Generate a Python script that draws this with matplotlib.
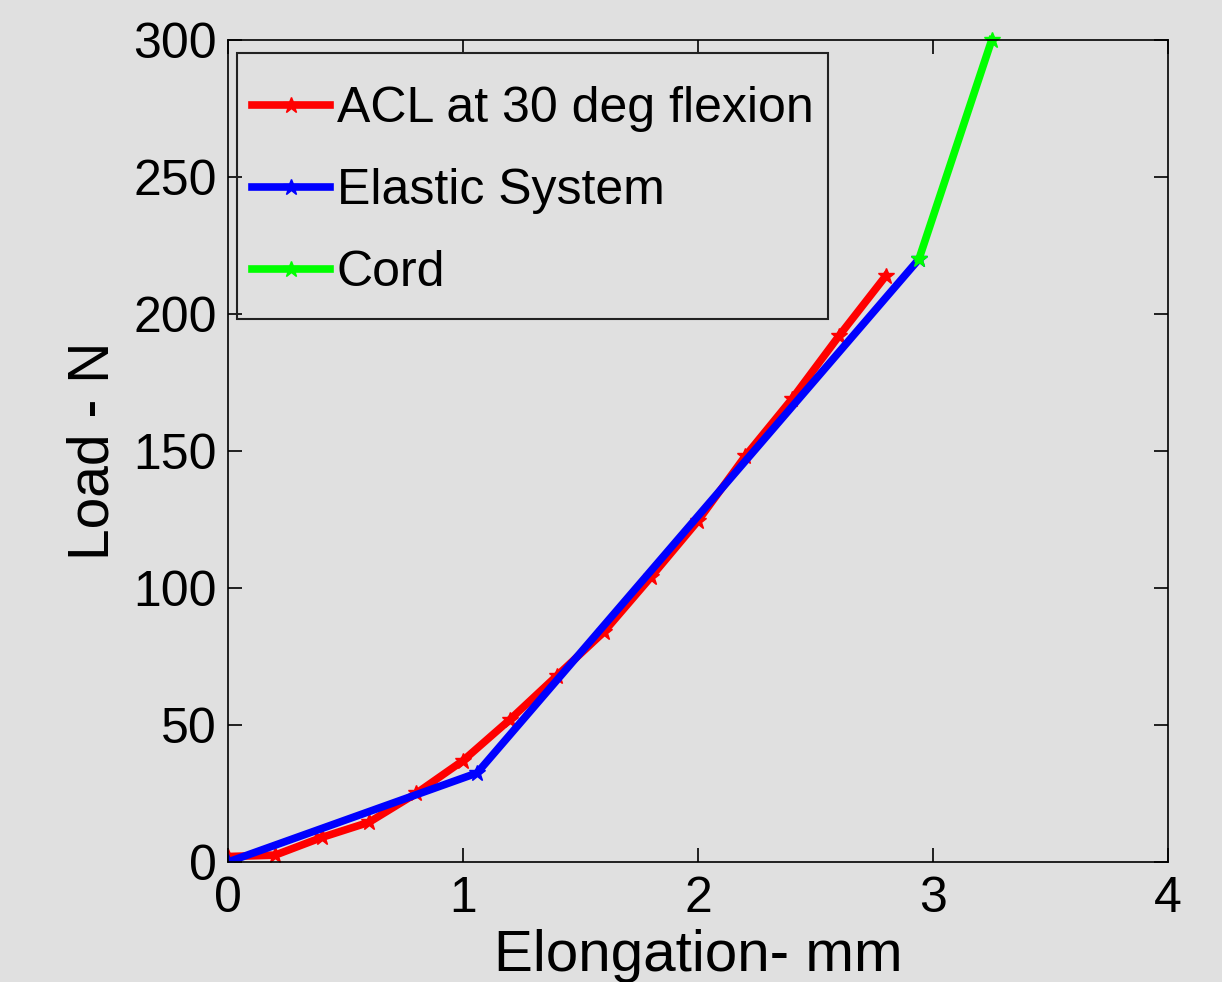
import matplotlib.pyplot as plt
from matplotlib.patches import Rectangle

# ACL load-elongation data
acl_x = [0, 0.2, 0.4, 0.6, 0.8, 1.0, 1.2, 1.4, 1.6, 1.8, 2.0, 2.2, 2.4, 2.6, 2.8]
acl_y = [2, 2.5, 9, 14.5, 25, 37, 52, 68, 84, 104, 124.5, 148, 169, 192, 214]

elastic_x = [0, 1.06, 2.94]
elastic_y = [0, 32.5, 220]

cord_x = [2.94, 3.25]
cord_y = [220, 300]

plt.rcParams['font.family'] = ['Liberation Sans', 'DejaVu Sans']
bg = '#e0e0e0'

fig = plt.figure(figsize=(12.22, 9.82), dpi=100, facecolor=bg)
ax = fig.add_axes([0.1866, 0.1222, 0.7692, 0.8371], facecolor=bg)

ax.plot(acl_x, acl_y, color='#ff0000', lw=5.5, marker='*', ms=12, label='ACL at 30 deg flexion')
ax.plot(elastic_x, elastic_y, color='#0000ff', lw=5.5, marker='*', ms=12, label='Elastic System')
ax.plot(cord_x, cord_y, color='#00ff00', lw=5.5, marker='*', ms=12, label='Cord', clip_on=False)

ax.set_xlim(0, 4)
ax.set_ylim(0, 300)
ax.set_xticks([0, 1, 2, 3, 4])
ax.set_yticks([0, 50, 100, 150, 200, 250, 300])
ax.tick_params(direction='in', length=10, width=1.2, top=True, right=True, labelsize=36)
ax.tick_params(axis='x', pad=10)
ax.tick_params(axis='y', pad=8)
for s in ax.spines.values():
    s.set_linewidth(1.2)

ax.set_xlabel('Elongation- mm', fontsize=42, labelpad=5)
ax.set_ylabel('Load - N', fontsize=41, labelpad=9)

# legend entries without frame, box drawn separately (MATLAB-like padding)
leg = ax.legend(loc='upper left', bbox_to_anchor=(0.0202, 0.950), fontsize=36, handlelength=1.55,
                handletextpad=0.14, borderaxespad=0, labelspacing=0.72, borderpad=0.1,
                frameon=False)
ax.add_patch(Rectangle((0.0096, 0.6606), 0.6287, 0.3236, transform=ax.transAxes,
                       facecolor='none', edgecolor='#222222', lw=1.5, zorder=4))

plt.savefig('out.png', dpi=100, facecolor=bg)
